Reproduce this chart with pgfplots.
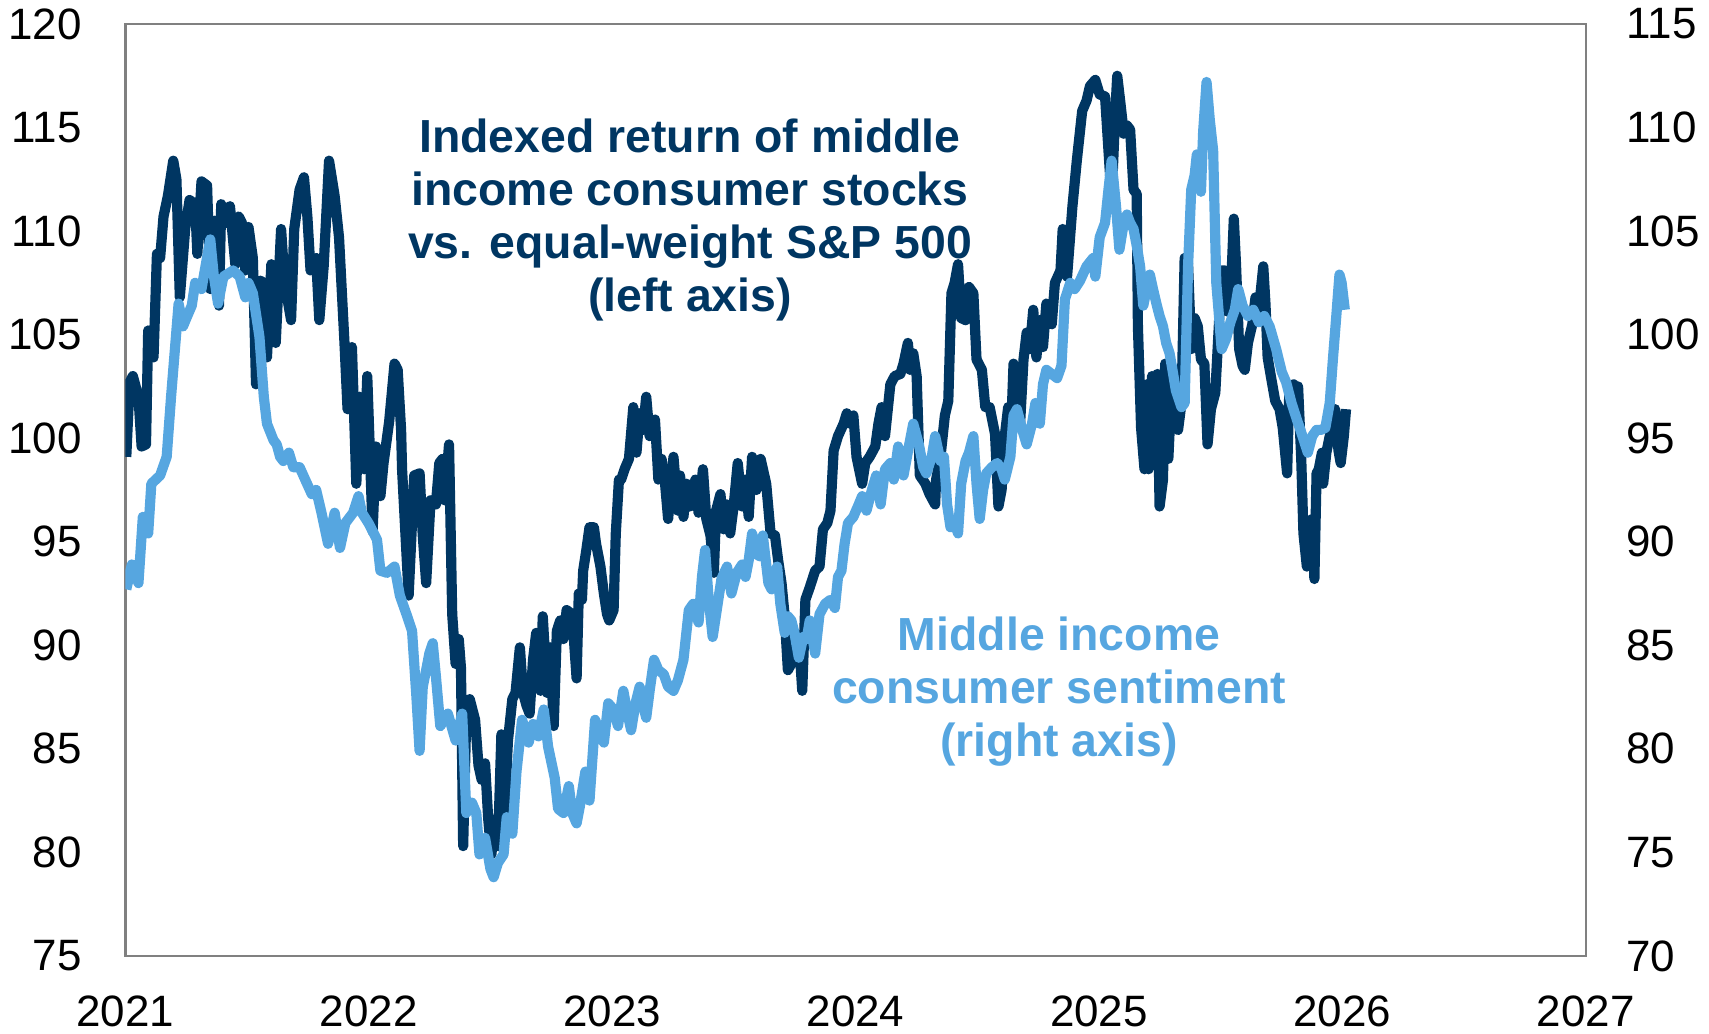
\documentclass[border=0pt]{standalone}
\usepackage{pgfplots}
\pgfplotsset{compat=1.18}
\usepackage{fontspec}
\setmainfont{Liberation Sans}
\definecolor{navy}{RGB}{0,54,98}
\definecolor{sky}{RGB}{86,166,224}
\definecolor{framegray}{RGB}{128,128,128}

\begin{document}
\begin{tikzpicture}
\path[use as bounding box] (0,0) rectangle (17.09cm,10.33cm);
\pgfplotsset{
  myax/.style={
    scale only axis, width=14.605cm, height=9.319cm,
    at={(1.253cm,0.771cm)}, anchor=south west,
    xmin=2021, xmax=2027,
    axis line style={framegray, line width=0.7pt},
    major tick length=0pt,
    tick label style={font=\fontsize{12.5}{15}\selectfont, inner sep=0pt},
  }
}
\begin{axis}[myax, ymin=75, ymax=120,
  ytick={75,80,85,90,95,100,105,110,115,120},
  yticklabels={75,80,85,90,95,100,105,110,115,120},
  xtick={2021,2022,2023,2024,2025,2026,2027},
  xticklabels={2021,2022,2023,2024,2025,2026,2027},
  yticklabel style={anchor=east, xshift=-4.3mm},
  xticklabel style={anchor=north, yshift=-3.9mm}]
\addplot[navy, line width=2.9pt, line join=round] coordinates {
(2021.004,99.1)(2021.018,102.7)(2021.031,103.0)(2021.054,102.0)(2021.067,99.6)(2021.085,99.7)(2021.094,105.2)(2021.116,103.9)(2021.130,108.9)(2021.143,108.7)(2021.157,110.7)(2021.175,111.7)(2021.197,113.4)(2021.210,112.5)(2021.224,106.8)(2021.246,110.1)(2021.264,111.5)(2021.287,111.3)(2021.296,108.9)(2021.313,112.4)(2021.336,112.2)(2021.349,107.2)(2021.367,110.5)(2021.385,106.4)(2021.394,111.3)(2021.416,110.4)(2021.430,111.2)(2021.452,108.4)(2021.466,110.7)(2021.479,110.4)(2021.493,108.1)(2021.506,110.2)(2021.524,108.7)(2021.537,102.6)(2021.555,107.6)(2021.569,107.5)(2021.582,103.9)(2021.600,108.4)(2021.618,104.6)(2021.640,110.1)(2021.654,107.6)(2021.681,105.7)(2021.694,110.1)(2021.716,112.0)(2021.734,112.6)(2021.748,110.7)(2021.761,108.1)(2021.784,108.7)(2021.797,105.7)(2021.815,108.3)(2021.837,113.4)(2021.860,111.7)(2021.878,109.7)(2021.900,104.7)(2021.913,101.4)(2021.931,104.4)(2021.949,97.8)(2021.963,102.0)(2021.981,98.5)(2021.994,103.0)
(2022.016,95.5)(2022.030,99.6)(2022.048,97.2)(2022.061,98.8)(2022.084,100.8)(2022.106,103.6)(2022.119,103.3)(2022.133,100.4)(2022.137,98.5)(2022.164,92.4)(2022.187,98.2)(2022.209,98.3)(2022.222,95.3)(2022.236,93.0)(2022.254,97.0)(2022.276,96.8)(2022.290,98.8)(2022.303,99.0)(2022.312,97.0)(2022.330,99.7)(2022.343,91.5)(2022.357,89.1)(2022.370,90.3)(2022.379,88.9)(2022.388,80.3)(2022.401,86.7)(2022.415,87.4)(2022.437,86.4)(2022.451,84.2)(2022.464,83.5)(2022.478,84.3)(2022.491,81.6)(2022.504,79.9)(2022.518,81.6)(2022.531,80.3)(2022.545,85.7)(2022.558,81.9)(2022.572,85.4)(2022.590,87.4)(2022.603,87.7)(2022.621,89.9)(2022.634,87.7)(2022.648,87.1)(2022.661,86.7)(2022.675,89.3)(2022.688,90.6)(2022.706,87.8)(2022.715,91.4)(2022.733,87.7)(2022.746,89.9)(2022.760,86.1)(2022.773,90.7)(2022.787,91.2)(2022.800,90.3)(2022.813,91.7)(2022.836,91.5)(2022.854,88.4)(2022.863,92.5)(2022.876,92.2)(2022.881,93.6)(2022.894,94.6)(2022.907,95.7)(2022.925,95.7)(2022.934,94.9)(2022.952,93.8)(2022.966,92.5)(2022.979,91.5)(2022.988,91.2)
(2023.006,91.7)(2023.015,95.4)(2023.028,98.0)(2023.037,98.0)(2023.051,98.5)(2023.069,99.0)(2023.087,101.5)(2023.100,99.3)(2023.113,101.2)(2023.127,100.4)(2023.140,102.0)(2023.154,100.1)(2023.176,100.9)(2023.190,98.0)(2023.203,99.0)(2023.216,98.0)(2023.230,96.1)(2023.252,99.1)(2023.270,96.5)(2023.279,98.2)(2023.293,96.2)(2023.306,97.8)(2023.319,96.7)(2023.342,98.0)(2023.355,96.4)(2023.373,98.5)(2023.387,96.1)(2023.404,95.3)(2023.418,93.5)(2023.427,96.5)(2023.445,97.3)(2023.458,95.6)(2023.472,96.8)(2023.485,95.4)(2023.499,96.7)(2023.516,98.8)(2023.534,96.7)(2023.548,98.0)(2023.561,96.2)(2023.575,99.1)(2023.593,97.5)(2023.610,99.0)(2023.633,97.8)(2023.651,95.4)(2023.669,95.3)(2023.682,94.1)(2023.696,93.0)(2023.709,91.4)(2023.722,88.8)(2023.745,89.3)(2023.767,90.4)(2023.781,87.8)(2023.794,92.2)(2023.812,92.8)(2023.834,93.6)(2023.852,93.8)(2023.866,95.6)(2023.884,95.9)(2023.897,96.5)(2023.910,99.4)(2023.928,100.1)(2023.951,100.7)(2023.964,101.2)(2023.978,100.7)(2023.991,101.1)
(2024.004,99.1)(2024.027,97.8)(2024.040,98.8)(2024.058,99.1)(2024.081,99.6)(2024.094,100.7)(2024.107,101.5)(2024.121,100.1)(2024.143,102.6)(2024.161,103.0)(2024.184,103.1)(2024.197,103.6)(2024.215,104.6)(2024.224,103.3)(2024.237,104.1)(2024.251,103.0)(2024.264,98.2)(2024.287,97.8)(2024.304,97.3)(2024.327,96.8)(2024.331,98.0)(2024.349,99.1)(2024.367,101.1)(2024.381,101.8)(2024.394,107.0)(2024.407,107.5)(2024.421,108.4)(2024.434,105.8)(2024.452,105.7)(2024.466,107.3)(2024.484,107.0)(2024.497,103.8)(2024.519,103.3)(2024.533,101.5)(2024.551,101.5)(2024.573,100.2)(2024.587,96.7)(2024.600,97.5)(2024.613,100.1)(2024.627,101.5)(2024.640,100.7)(2024.649,103.6)(2024.663,101.8)(2024.676,100.7)(2024.690,103.8)(2024.703,105.1)(2024.716,104.3)(2024.730,106.2)(2024.743,103.9)(2024.757,105.7)(2024.770,104.4)(2024.784,106.5)(2024.806,105.5)(2024.819,107.5)(2024.842,108.1)(2024.851,110.1)(2024.869,107.8)(2024.891,111.2)(2024.909,113.4)(2024.931,115.8)(2024.949,116.3)(2024.963,117.0)(2024.985,117.3)
(2025.003,116.6)(2025.025,116.5)(2025.039,113.9)(2025.052,111.5)(2025.066,115.5)(2025.075,117.5)(2025.088,116.2)(2025.102,114.7)(2025.115,115.1)(2025.128,114.9)(2025.142,112.0)(2025.155,111.8)(2025.160,105.4)(2025.173,100.5)(2025.187,98.5)(2025.196,102.6)(2025.204,98.5)(2025.218,103.0)(2025.231,100.1)(2025.240,103.1)(2025.249,96.7)(2025.263,98.0)(2025.272,103.6)(2025.285,99.0)(2025.299,102.6)(2025.312,100.7)(2025.325,100.4)(2025.339,101.7)(2025.352,108.7)(2025.366,108.4)(2025.379,104.3)(2025.393,105.8)(2025.406,105.4)(2025.419,103.8)(2025.433,103.6)(2025.446,99.7)(2025.460,101.4)(2025.478,102.2)(2025.491,105.1)(2025.504,108.1)(2025.518,108.1)(2025.531,106.1)(2025.540,106.5)(2025.554,110.6)(2025.563,108.4)(2025.576,104.3)(2025.590,103.5)(2025.599,103.3)(2025.612,104.6)(2025.630,105.5)(2025.643,106.8)(2025.657,106.2)(2025.675,108.3)(2025.684,106.5)(2025.693,103.9)(2025.706,103.0)(2025.724,101.8)(2025.742,101.4)(2025.755,100.5)(2025.773,98.3)(2025.782,102.3)(2025.800,102.6)(2025.813,100.9)(2025.818,102.5)(2025.831,99.0)(2025.840,95.4)(2025.854,93.8)(2025.876,96.1)(2025.885,93.2)(2025.894,98.3)(2025.903,98.5)(2025.916,99.3)(2025.921,97.8)(2025.934,99.3)(2025.948,100.1)(2025.970,101.4)(2025.984,99.4)(2025.993,98.8)(2026.006,100.1)(2026.015,101.4)
};
\end{axis}
\begin{axis}[myax, ymin=70, ymax=115,
  axis y line*=right, axis x line=none,
  xtick=\empty,
  ytick={70,75,80,85,90,95,100,105,110,115},
  yticklabels={70,75,80,85,90,95,100,105,110,115},
  yticklabel style={anchor=west, xshift=4.0mm}]
\addplot[sky, line width=2.9pt, line join=round] coordinates {
(2021.004,87.7)(2021.027,88.9)(2021.054,88.0)(2021.072,91.2)(2021.094,90.4)(2021.107,92.8)(2021.143,93.2)(2021.170,94.1)(2021.188,97.0)(2021.219,101.5)(2021.237,100.4)(2021.251,100.8)(2021.273,101.4)(2021.287,102.5)(2021.313,102.2)(2021.349,104.6)(2021.363,102.9)(2021.381,101.5)(2021.403,102.8)(2021.443,103.1)(2021.470,102.8)(2021.493,101.8)(2021.506,102.5)(2021.524,102.0)(2021.551,99.9)(2021.569,97.0)(2021.582,95.7)(2021.609,94.9)(2021.622,94.7)(2021.636,94.1)(2021.649,93.9)(2021.672,94.3)(2021.690,93.6)(2021.716,93.6)(2021.739,93.0)(2021.766,92.3)(2021.784,92.5)(2021.806,91.4)(2021.833,89.9)(2021.860,91.4)(2021.882,89.7)(2021.904,90.9)(2021.936,91.4)(2021.958,92.2)(2021.972,91.4)(2021.999,90.9)
(2022.034,90.1)(2022.048,88.6)(2022.075,88.5)(2022.106,88.8)(2022.128,87.4)(2022.155,86.5)(2022.178,85.7)(2022.196,82.5)(2022.209,79.9)(2022.222,83.0)(2022.236,83.8)(2022.249,84.6)(2022.263,85.1)(2022.276,83.5)(2022.294,81.1)(2022.325,81.7)(2022.357,80.4)(2022.384,81.7)(2022.401,76.9)(2022.424,77.4)(2022.442,76.9)(2022.455,74.9)(2022.478,75.7)(2022.500,74.2)(2022.513,73.8)(2022.531,74.5)(2022.554,74.9)(2022.567,76.7)(2022.590,75.9)(2022.607,78.9)(2022.630,81.4)(2022.657,80.3)(2022.675,81.2)(2022.697,80.6)(2022.719,81.9)(2022.737,80.1)(2022.764,78.6)(2022.778,77.1)(2022.800,76.9)(2022.822,78.2)(2022.836,76.9)(2022.854,76.4)(2022.867,77.2)(2022.890,78.9)(2022.907,77.5)(2022.930,81.4)(2022.952,80.7)(2022.966,80.3)(2022.984,82.2)
(2023.006,81.9)(2023.024,81.1)(2023.046,82.8)(2023.060,81.9)(2023.078,80.9)(2023.096,82.2)(2023.113,83.0)(2023.127,82.1)(2023.140,81.5)(2023.154,82.8)(2023.172,84.3)(2023.190,83.8)(2023.212,83.6)(2023.230,83.0)(2023.252,82.8)(2023.270,83.3)(2023.293,84.3)(2023.315,86.7)(2023.333,87.0)(2023.355,86.1)(2023.369,88.3)(2023.382,89.6)(2023.396,87.3)(2023.413,85.4)(2023.431,86.8)(2023.449,88.2)(2023.472,88.8)(2023.490,87.5)(2023.512,88.5)(2023.534,88.9)(2023.548,88.3)(2023.561,89.1)(2023.575,90.4)(2023.593,89.4)(2023.606,89.3)(2023.619,90.3)(2023.642,88.0)(2023.655,87.7)(2023.678,88.8)(2023.691,87.0)(2023.709,85.6)(2023.722,86.4)(2023.736,86.2)(2023.749,85.6)(2023.767,84.4)(2023.785,85.4)(2023.799,85.3)(2023.812,86.2)(2023.834,84.6)(2023.852,86.5)(2023.875,87.0)(2023.897,87.2)(2023.915,86.8)(2023.928,88.3)(2023.942,88.6)(2023.955,89.9)(2023.969,90.9)(2023.991,91.2)
(2024.013,91.8)(2024.027,92.2)(2024.045,91.5)(2024.067,92.5)(2024.085,93.2)(2024.103,91.8)(2024.121,93.5)(2024.143,93.8)(2024.157,93.0)(2024.175,94.6)(2024.197,93.2)(2024.219,94.6)(2024.237,95.7)(2024.260,94.7)(2024.278,93.6)(2024.291,93.3)(2024.313,94.1)(2024.327,95.1)(2024.349,93.9)(2024.363,94.1)(2024.376,91.8)(2024.390,90.7)(2024.407,90.9)(2024.421,90.4)(2024.434,92.8)(2024.452,93.9)(2024.466,94.3)(2024.484,95.1)(2024.497,92.8)(2024.510,91.1)(2024.524,92.5)(2024.537,93.3)(2024.560,93.6)(2024.582,93.8)(2024.600,93.5)(2024.613,93.0)(2024.636,94.1)(2024.649,96.1)(2024.663,96.4)(2024.685,95.4)(2024.703,94.7)(2024.725,95.7)(2024.739,96.7)(2024.757,95.7)(2024.770,97.6)(2024.784,98.3)(2024.806,98.1)(2024.828,97.9)(2024.846,98.5)(2024.860,101.7)(2024.882,102.5)(2024.900,102.2)(2024.922,102.6)(2024.949,103.3)(2024.976,103.7)(2024.985,102.8)
(2025.003,104.7)(2025.025,105.4)(2025.039,107.0)(2025.052,108.4)(2025.070,106.2)(2025.084,104.1)(2025.102,105.4)(2025.115,105.8)(2025.128,105.4)(2025.142,105.1)(2025.155,104.3)(2025.169,103.3)(2025.182,101.4)(2025.196,102.2)(2025.209,102.9)(2025.222,102.2)(2025.236,101.5)(2025.249,100.9)(2025.263,100.4)(2025.276,99.6)(2025.290,99.1)(2025.299,98.5)(2025.316,97.3)(2025.339,96.5)(2025.352,96.7)(2025.366,103.3)(2025.379,107.0)(2025.393,107.7)(2025.402,108.7)(2025.415,108.3)(2025.419,106.9)(2025.428,109.8)(2025.442,112.2)(2025.455,110.4)(2025.469,108.9)(2025.482,102.5)(2025.504,99.3)(2025.522,99.8)(2025.540,100.6)(2025.558,101.2)(2025.572,102.2)(2025.590,101.4)(2025.612,100.9)(2025.634,101.2)(2025.657,100.6)(2025.679,100.9)(2025.701,100.4)(2025.728,99.3)(2025.751,98.2)(2025.769,97.7)(2025.791,96.7)(2025.813,95.9)(2025.836,95.1)(2025.858,94.3)(2025.876,95.1)(2025.894,95.4)(2025.912,95.4)(2025.930,95.5)(2025.948,96.7)(2025.961,98.8)(2025.975,100.9)(2025.988,102.9)(2025.997,102.5)(2026.010,101.2)
};
\end{axis}
\node[anchor=north, align=center, text=navy, inner sep=0pt,
  font=\bfseries\fontsize{13.2}{15.1}\selectfont] at (6.90cm,9.15cm)
  {Indexed return of middle\\income consumer stocks\\vs. equal-weight S\&P 500\\(left axis)};
\node[anchor=north, align=center, text=sky, inner sep=0pt,
  font=\bfseries\fontsize{13.2}{15.1}\selectfont] at (10.59cm,4.17cm)
  {Middle income\\consumer sentiment\\(right axis)};
\end{tikzpicture}
\end{document}
